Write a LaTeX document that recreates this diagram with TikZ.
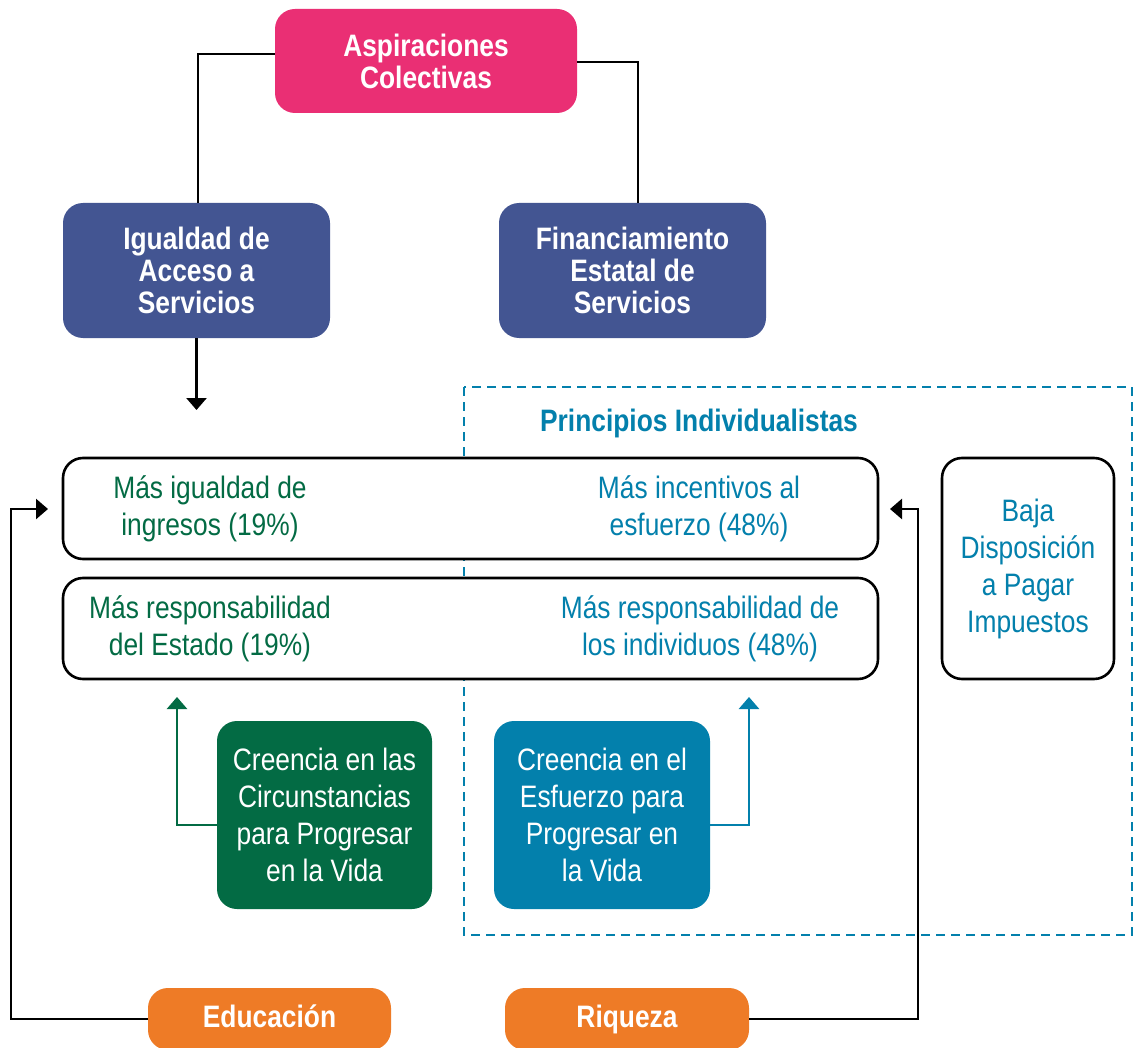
\documentclass[tikz,border=0pt]{standalone}
\usepackage{fontspec}
\setmainfont{Liberation Sans}[FakeStretch=0.85]
\usetikzlibrary{arrows.meta,calc}
\definecolor{cpink}{HTML}{EA2F74}
\definecolor{cnavy}{HTML}{435592}
\definecolor{cgreen}{HTML}{036B44}
\definecolor{cteal}{HTML}{0380AC}
\definecolor{corange}{HTML}{EE7B26}
\newcommand\myhead{\fontsize{31}{32}\selectfont\bfseries}
\newcommand\mybody{\fontsize{31}{37}\selectfont}
\begin{document}
\begin{tikzpicture}[x=1pt,y=-1pt,
  fillbox/.style={rounded corners=20pt, inner sep=0pt, align=center, text=white},
  headbox/.style={fillbox, font=\myhead},
  bodybox/.style={fillbox, font=\mybody},
  outbox/.style={draw=black, line width=2.6pt, rounded corners=20pt, inner sep=0pt, fill=white},
  txt/.style={inner sep=0pt, align=center, font=\mybody},
  conn/.style={draw=black, line width=2.6pt},
  tip/.style={-{Triangle[width=20pt,length=12pt]}},
]
\useasboundingbox (0,0) rectangle (1134,1048);
\fill[white] (0,0) rectangle (1134,1048);

% dashed region
\draw[cteal, line width=2.4pt, dash pattern=on 9pt off 6pt] (464,387) rectangle (1132,935);
\node[inner sep=0pt, text=cteal, font=\myhead] (title) at (699,423) {Principios Individualistas};

% top nodes
\node[headbox, fill=cpink, minimum width=302pt, minimum height=104pt] (asp) at (426,61) {Aspiraciones\\Colectivas};
\node[headbox, fill=cnavy, minimum width=267pt, minimum height=135pt] (igu) at (196.5,270.5) {Igualdad de\\Acceso a\\Servicios};
\node[headbox, fill=cnavy, minimum width=267pt, minimum height=135pt] (fin) at (632.5,270.5) {Financiamiento\\Estatal de\\Servicios};

% long boxes
\node[outbox, minimum width=815pt, minimum height=101pt] (row1) at (470.5,508.5) {};
\node[outbox, minimum width=815pt, minimum height=101pt] (row2) at (470.5,628.5) {};
\node[txt, text=cgreen] (t1) at (210,508.5) {Más igualdad de\\ingresos (19\%)};
\node[txt, text=cteal] (t2) at (699,508.5) {Más incentivos al\\esfuerzo (48\%)};
\node[txt, text=cgreen] (t3) at (210,628.5) {Más responsabilidad\\del Estado (19\%)};
\node[txt, text=cteal] (t4) at (700,628.5) {Más responsabilidad de\\los individuos (48\%)};

\node[outbox, minimum width=172pt, minimum height=221pt, text=cteal, font=\mybody, align=center] (baja) at (1028,568.5) {Baja\\Disposición\\a Pagar\\Impuestos};

% belief boxes
\node[bodybox, fill=cgreen, minimum width=215pt, minimum height=188pt] (circ) at (324.5,815) {Creencia en las\\Circunstancias\\para Progresar\\en la Vida};
\node[bodybox, fill=cteal, minimum width=216pt, minimum height=188pt] (esf) at (602,815) {Creencia en el\\Esfuerzo para\\Progresar en\\la Vida};

% bottom boxes
\node[headbox, fill=corange, minimum width=243pt, minimum height=62pt, text height=22pt, text depth=6pt] (edu) at (269.5,1019) {Educación};
\node[headbox, fill=corange, minimum width=244pt, minimum height=62pt, text height=22pt, text depth=6pt] (riq) at (627,1019) {Riqueza};

% free ends
\coordinate (iguend) at (196.5,410);
\coordinate (leftin) at (48,509);
\coordinate (rightin) at (890,509);
\coordinate (greenend) at (177,697);
\coordinate (blueend) at (749,697);

% connectors
\draw[conn] ([yshift=7pt]asp.west) -| ([xshift=1.5pt]igu.north);
\draw[conn] ([yshift=-1pt]asp.east) -| ([xshift=5.5pt]fin.north);
\draw[conn, tip] (igu.south) -- (iguend);
\draw[conn, tip] (edu.west) -- (11,1019) |- (leftin);
\draw[conn, tip] (riq.east) -- (918,1019) |- (rightin);
\draw[draw=cgreen, line width=2.6pt, tip] ([yshift=-10pt]circ.west) -| (greenend);
\draw[draw=cteal, line width=2.6pt, tip] ([yshift=-10pt]esf.east) -| (blueend);
\end{tikzpicture}
\end{document}
